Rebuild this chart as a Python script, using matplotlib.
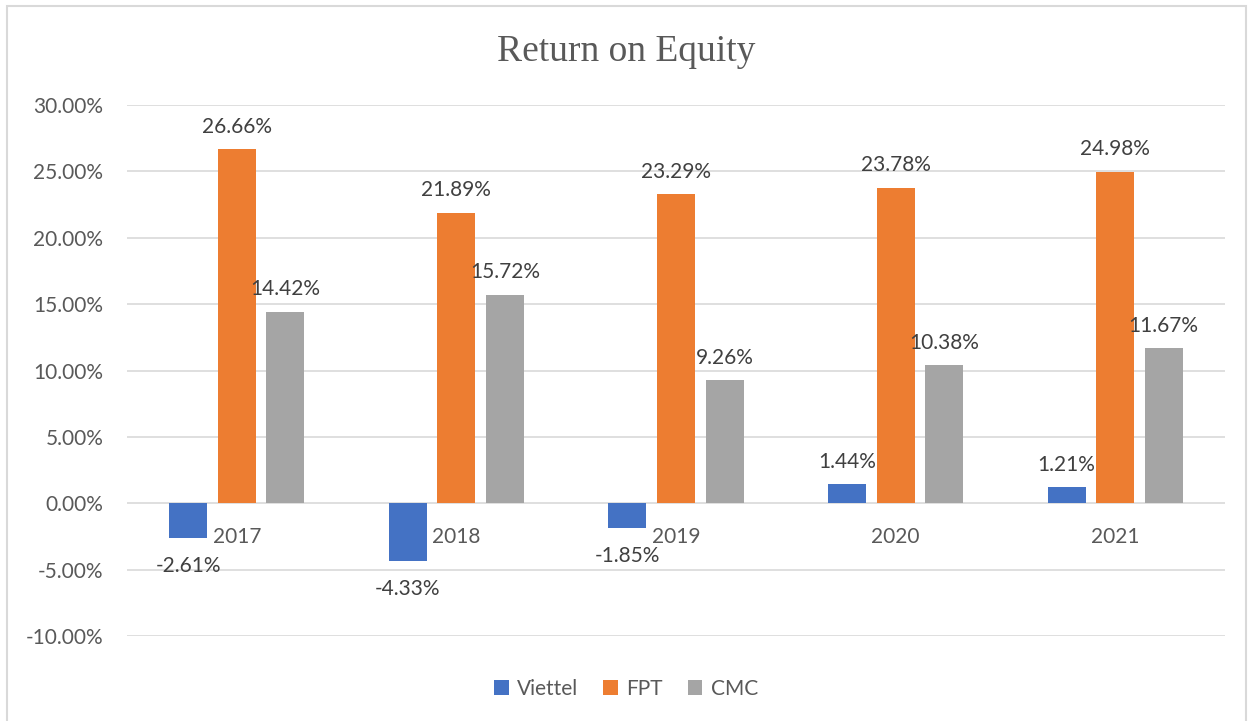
import matplotlib.pyplot as plt
from matplotlib.patches import Rectangle
import numpy as np

years = ['2017', '2018', '2019', '2020', '2021']
viettel = [-2.61, -4.33, -1.85, 1.44, 1.21]
fpt = [26.66, 21.89, 23.29, 23.78, 24.98]
cmc = [14.42, 15.72, 9.26, 10.38, 11.67]
series = [('Viettel', viettel, '#4472C4'), ('FPT', fpt, '#ED7D31'), ('CMC', cmc, '#A5A5A5')]
yticks = [-10, -5, 0, 5, 10, 15, 20, 25, 30]

txt = '#595959'
fs = 15
plt.rcParams['font.family'] = ['Lato', 'DejaVu Sans']

fig = plt.figure(figsize=(12.52, 7.21), dpi=100)
fig.patches.append(Rectangle((7 / 1252, -0.01), 1239 / 1252, 1.01 - 6 / 721,
                             transform=fig.transFigure, fill=False,
                             edgecolor='#D9D9D9', linewidth=1.5))
ax = fig.add_axes([127 / 1252, 1 - 636 / 721, 1098 / 1252, 531 / 721])

x = np.arange(len(years))
step = 0.221
width = 0.173
for k, (name, vals, col) in enumerate(series):
    pos = x + (k - 1) * step
    ax.bar(pos, vals, width, color=col, label=name, zorder=3)
    for p, v in zip(pos, vals):
        if v >= 0:
            ax.annotate(f'{v:.2f}%', (p, v), xytext=(0, 9), textcoords='offset points',
                        ha='center', va='bottom', fontsize=fs, color='#404040')
        else:
            ax.annotate(f'{v:.2f}%', (p, v), xytext=(0, -13), textcoords='offset points',
                        ha='center', va='top', fontsize=fs, color='#404040')

for i, y in enumerate(years):
    ax.annotate(y, (i, 0), xytext=(0, -17), textcoords='offset points',
                ha='center', va='top', fontsize=fs, color=txt)

ax.set_xlim(-0.5, len(years) - 0.5)
ax.set_ylim(-10, 30)
ax.set_yticks(yticks)
ax.set_yticklabels([f'{t:.2f}%' for t in yticks], fontsize=fs, color=txt)
ax.set_xticks([])
ax.tick_params(axis='y', length=0, pad=17)
ax.grid(axis='y', color='#D9D9D9', linewidth=1.2, zorder=0)
for s in ax.spines.values():
    s.set_visible(False)

fig.text(0.5, 1 - 52 / 721, 'Return on Equity', ha='center', va='center',
         fontsize=27, color=txt, family='Liberation Serif')

ax.legend(loc='center', bbox_to_anchor=(0.5, 1 - 689 / 721), bbox_transform=fig.transFigure,
          ncol=3, frameon=False, fontsize=fs, labelcolor=txt, handlelength=0.7,
          handleheight=0.7, handletextpad=0.4, columnspacing=1.2)

fig.savefig('out.png', dpi=100)
